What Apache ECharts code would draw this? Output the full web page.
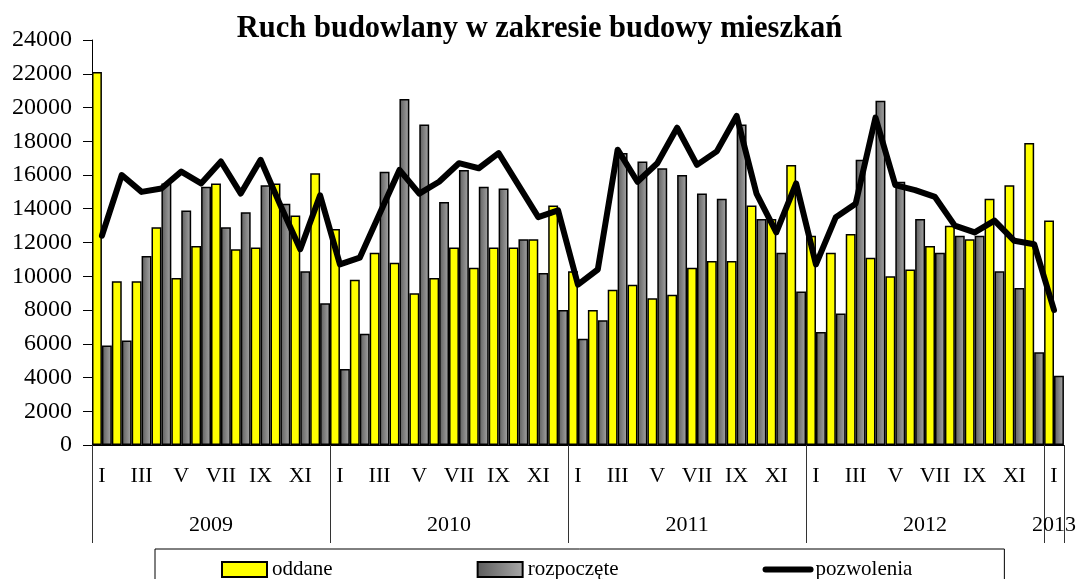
<!DOCTYPE html>
<html>
<head>
<meta charset="utf-8">
<script src="https://cdn.jsdelivr.net/npm/echarts@6/dist/echarts.min.js"></script>
<style>
    html, body { margin: 0; padding: 0; background: #fff; }
    #chart { width: 1079px; height: 579px; }
</style>
</head>
<body>
<div id="chart"></div>
<script>
// miesiace i lata
const roman = ['I', 'II', 'III', 'IV', 'V', 'VI', 'VII', 'VIII', 'IX', 'X', 'XI', 'XII'];
const years = ['2009', '2010', '2011', '2012', '2013'];
const monthsInYear = [12, 12, 12, 12, 1];

// mieszkania oddane
const oddane = [
    22100, 9700, 9700, 12900, 9900, 11800, 15500, 11600, 11700, 15500, 13600, 16100,
    12800, 9800, 11400, 10800, 9000, 9900, 11700, 10500, 11700, 11700, 12200, 14200,
    10300, 8000, 9200, 9500, 8700, 8900, 10500, 10900, 10900, 14200, 13400, 16600,
    12400, 11400, 12500, 11100, 10000, 10400, 11800, 13000, 12200, 14600, 15400, 17900,
    13300
];
// mieszkania rozpoczete
const rozpoczete = [
    5900, 6200, 11200, 15500, 13900, 15300, 12900, 13800, 15400, 14300, 10300, 8400,
    4500, 6600, 16200, 20500, 19000, 14400, 16300, 15300, 15200, 12200, 10200, 8000,
    6300, 7400, 17300, 16800, 16400, 16000, 14900, 14600, 19000, 13400, 11400, 9100,
    6700, 7800, 16900, 20400, 15600, 13400, 11400, 12400, 12400, 10300, 9300, 5500,
    4100
];
// pozwolenia na budowe
const pozwolenia = [
    12400, 16000, 15000, 15200, 16200, 15500, 16800, 14900, 16900, 14200, 11600, 14800,
    10700, 11100, 13700, 16300, 14900, 15600, 16700, 16400, 17300, 15400, 13500, 13900,
    9500, 10400, 17500, 15600, 16700, 18800, 16600, 17400, 19500, 14900, 12600, 15500,
    10700, 13500, 14300, 19400, 15400, 15100, 14700, 13000, 12600, 13300, 12100, 11900,
    8000
];

const months = [];
const yearBounds = [0];
const yearMid = [];
monthsInYear.forEach((n, i) => {
    for (let m = 0; m < n; m++) months.push(roman[m] + '|' + years[i]);
    const start = yearBounds[yearBounds.length - 1];
    yearBounds.push(start + n);
    yearMid.push(start + n / 2);
});
const total = months.length;

const font = '"Liberation Serif", "Times New Roman", serif';

const chart = echarts.init(document.getElementById('chart'));

const option = {
    animation: false,
    textStyle: { fontFamily: font, color: '#000' },
    title: {
        text: 'Ruch budowlany w zakresie budowy mieszkań',
        left: 'center',
        top: 9,
        textStyle: { fontFamily: font, fontSize: 30.5, fontWeight: 'bold', color: '#000' }
    },
    legend: {
        left: 155,
        top: 549,
        padding: [10, 92, 12, 66],
        itemGap: 144,
        itemWidth: 45,
        itemHeight: 15,
        borderColor: '#000',
        borderWidth: 1,
        textStyle: { fontFamily: font, fontSize: 21, color: '#000' },
        data: [
            { name: 'oddane', icon: 'rect' },
            { name: 'rozpoczęte', icon: 'rect' },
            { name: 'pozwolenia', itemStyle: { opacity: 0 }, lineStyle: { width: 6, cap: 'round' } }
        ]
    },
    grid: {
        left: 92,
        right: 14,
        top: 40,
        bottom: 134
    },
    xAxis: [
        {
            type: 'category',
            data: months,
            axisLine: { lineStyle: { color: '#000', width: 1 } },
            axisTick: { show: false },
            axisLabel: {
                interval: 1,
                margin: 20,
                fontFamily: font,
                fontSize: 22,
                color: '#000',
                formatter: v => v.split('|')[0]
            }
        },
        {
            type: 'value',
            position: 'bottom',
            min: 0,
            max: total,
            axisLine: { show: false },
            splitLine: { show: false },
            axisTick: {
                show: true,
                length: 98,
                customValues: yearBounds,
                lineStyle: { color: '#333', width: 1 }
            },
            axisLabel: {
                margin: 69,
                fontFamily: font,
                fontSize: 22,
                color: '#000',
                customValues: yearMid,
                formatter: v => years[yearMid.indexOf(v)]
            }
        }
    ],
    yAxis: {
        type: 'value',
        min: 0,
        max: 24000,
        interval: 2000,
        axisLine: { show: true, lineStyle: { color: '#000', width: 1 } },
        axisTick: { show: true, length: 9, lineStyle: { color: '#000' } },
        splitLine: { show: false },
        axisLabel: {
            margin: 20,
            fontFamily: font,
            fontSize: 24,
            color: '#000',
            formatter: v => String(v)
        }
    },
    series: [
        {
            name: 'oddane',
            type: 'bar',
            data: oddane,
            barGap: '0%',
            barCategoryGap: '0%',
            itemStyle: { color: '#ffff00', borderColor: '#000', borderWidth: 1.5 }
        },
        {
            name: 'rozpoczęte',
            type: 'bar',
            data: rozpoczete,
            itemStyle: {
                color: new echarts.graphic.LinearGradient(0, 0, 1, 0, [
                    { offset: 0, color: '#5c5c5c' },
                    { offset: 1, color: '#a8a8a8' }
                ]),
                borderColor: '#000',
                borderWidth: 1.5
            }
        },
        {
            name: 'pozwolenia',
            type: 'line',
            data: pozwolenia,
            symbol: 'none',
            z: 5,
            lineStyle: { color: '#000', width: 6, cap: 'round', join: 'round' },
            itemStyle: { color: '#000' }
        }
    ]
};

chart.setOption(option);
</script>
</body>
</html>
